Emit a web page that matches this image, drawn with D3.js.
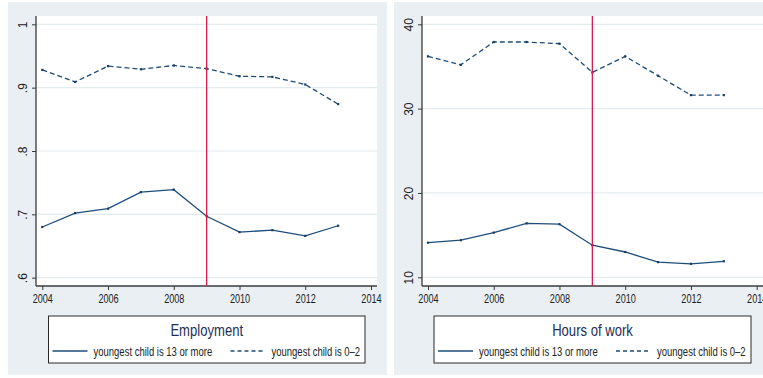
<!DOCTYPE html>
<html>
<head>
<meta charset="utf-8">
<script src="https://cdn.jsdelivr.net/npm/d3@7"></script>
<style>
  html, body { margin: 0; padding: 0; background: #ffffff; }
  svg { display: block; }
  .narrow, .regular { font-family: "Liberation Sans", Arial, Helvetica, sans-serif; }
</style>
</head>
<body>
<svg id="chart" width="763" height="378"></svg>
<script>
// Survey years
const years = [2004, 2005, 2006, 2007, 2008, 2009, 2010, 2011, 2012, 2013];

// Employment rate by age of youngest child
const employmentOlder = [0.680, 0.702, 0.709, 0.735, 0.739, 0.697, 0.672, 0.675, 0.666, 0.682];
const employmentYoung = [0.928, 0.909, 0.934, 0.929, 0.935, 0.930, 0.918, 0.917, 0.905, 0.874];

// Weekly hours of work by age of youngest child
const hoursOlder = [14.1, 14.4, 15.3, 16.4, 16.3, 13.8, 13.0, 11.8, 11.6, 11.9];
const hoursYoung = [36.2, 35.2, 37.9, 37.9, 37.7, 34.3, 36.2, 33.9, 31.6, 31.6];

// Axis ticks
const yearTicks = [2004, 2006, 2008, 2010, 2012, 2014];
const employmentTicks = [0.6, 0.7, 0.8, 0.9, 1];
const hoursTicks = [10, 20, 30, 40];

// Reference year marking the break
const breakYear = 2009;

// Legend labels
const seriesLabels = ["youngest child is 13 or more", "youngest child is 0\u20132"];

const svg = d3.select("#chart");
const navy = "#1f4d7a";
const red = "#d81e4f";
const panelBg = "#e9eff2";
const gridColor = "#e3ecef";
const axisColor = "#3a3a3a";

// Horizontal text is set condensed: squeeze each label to a fraction of its natural width
function condense(sel, factor) {
  sel.each(function () {
    const w = this.getComputedTextLength();
    d3.select(this)
      .attr("textLength", (w * factor).toFixed(2))
      .attr("lengthAdjust", "spacingAndGlyphs");
  });
}

function fmtEmployment(d) {
  return d === 1 ? "1" : d3.format(".1f")(d).replace(/^0/, "");
}

function drawPanel(cfg) {
  const g = svg.append("g");

  // Panel background
  g.append("rect")
    .attr("x", cfg.bg[0]).attr("y", cfg.bg[1])
    .attr("width", cfg.bg[2]).attr("height", cfg.bg[3])
    .attr("fill", panelBg);

  // Plot area
  g.append("rect")
    .attr("x", cfg.plot.left).attr("y", cfg.plot.top)
    .attr("width", cfg.plot.right - cfg.plot.left)
    .attr("height", cfg.plot.bottom - cfg.plot.top)
    .attr("fill", "#ffffff");

  const x = d3.scaleLinear().domain([2004, 2014]).range(cfg.xRange);
  const y = d3.scaleLinear().domain(cfg.yDomain).range(cfg.yRange);

  const clipId = "clip-" + cfg.id;
  svg.append("defs").append("clipPath").attr("id", clipId)
    .append("rect")
    .attr("x", cfg.plot.left).attr("y", cfg.plot.top)
    .attr("width", cfg.plot.right - cfg.plot.left)
    .attr("height", cfg.plot.bottom - cfg.plot.top);

  // Horizontal gridlines
  g.append("g").selectAll("line").data(cfg.yTicks).join("line")
    .attr("x1", cfg.plot.left).attr("x2", cfg.plot.right)
    .attr("y1", d => y(d)).attr("y2", d => y(d))
    .attr("stroke", gridColor).attr("stroke-width", 1.2);

  // Y axis
  const yAxis = d3.axisLeft(y).tickValues(cfg.yTicks).tickSize(4).tickFormat(cfg.yFormat);
  const yg = g.append("g")
    .attr("transform", `translate(${cfg.plot.left},0)`)
    .call(yAxis);
  yg.select(".domain")
    .attr("d", `M0,${cfg.plot.top}V${cfg.plot.bottom}`)
    .attr("stroke", axisColor).attr("stroke-width", 1.3);
  yg.selectAll(".tick line").attr("stroke", axisColor).attr("stroke-width", 1);
  yg.selectAll(".tick text")
    .attr("class", "regular")
    .attr("font-size", 12)
    .attr("fill", "#222")
    .attr("x", null).attr("dy", null)
    .attr("text-anchor", "middle")
    .attr("transform", `translate(${cfg.yLabelX},0) rotate(-90)`)
    .attr("y", 0);

  // X axis
  const xAxis = d3.axisBottom(x).tickValues(yearTicks).tickSize(4).tickFormat(d3.format("d"));
  const xg = g.append("g")
    .attr("transform", `translate(0,${cfg.plot.bottom})`)
    .call(xAxis);
  xg.select(".domain")
    .attr("d", `M${cfg.plot.left},0H${cfg.plot.right}`)
    .attr("stroke", axisColor).attr("stroke-width", 1.3);
  xg.selectAll(".tick line").attr("stroke", axisColor).attr("stroke-width", 1);
  xg.selectAll(".tick text")
    .attr("class", "narrow")
    .attr("font-size", 12)
    .attr("fill", "#222")
    .attr("dy", null)
    .attr("y", 17)
    .call(condense, 0.76);

  const line = d3.line().x((d, i) => x(years[i])).y(d => y(d));
  const marks = g.append("g").attr("clip-path", `url(#${clipId})`);

  // Series 1: youngest child 13+ (solid)
  marks.append("path").datum(cfg.older)
    .attr("d", line).attr("fill", "none")
    .attr("stroke", navy).attr("stroke-width", 1.3);
  // Series 2: youngest child 0-2 (dashed)
  marks.append("path").datum(cfg.young)
    .attr("d", line).attr("fill", "none")
    .attr("stroke", navy).attr("stroke-width", 1.3)
    .attr("stroke-dasharray", "5,3");

  // Point markers
  [cfg.older, cfg.young].forEach(series => {
    marks.append("g").selectAll("rect").data(series).join("rect")
      .attr("x", (d, i) => x(years[i]) - 1.1)
      .attr("y", d => y(d) - 1.1)
      .attr("width", 2.2).attr("height", 2.2)
      .attr("fill", "#173d63");
  });

  // Break year marker
  marks.append("line")
    .attr("x1", x(breakYear)).attr("x2", x(breakYear))
    .attr("y1", cfg.plot.top).attr("y2", cfg.plot.bottom)
    .attr("stroke", red).attr("stroke-width", 1.3);

  // Legend box
  const lg = cfg.legend;
  g.append("rect")
    .attr("x", lg.x).attr("y", lg.y).attr("width", lg.w).attr("height", lg.h)
    .attr("fill", "#ffffff").attr("stroke", "#2a2a2a").attr("stroke-width", 1);
  g.append("text")
    .attr("class", "narrow")
    .attr("x", lg.x + lg.w / 2).attr("y", lg.y + 19.5)
    .attr("text-anchor", "middle")
    .attr("font-size", 17)
    .attr("fill", "#1f2f56")
    .text(cfg.title)
    .call(condense, 0.77);

  const itemY = lg.y + 35;
  const items = [
    { dash: null, x0: lg.x + 4, label: seriesLabels[0] },
    { dash: "4,3", x0: lg.x + 182, label: seriesLabels[1] }
  ];
  items.forEach(it => {
    g.append("line")
      .attr("x1", it.x0).attr("x2", it.x0 + 35)
      .attr("y1", itemY).attr("y2", itemY)
      .attr("stroke", navy).attr("stroke-width", 1.3)
      .attr("stroke-dasharray", it.dash);
    g.append("text")
      .attr("class", "narrow")
      .attr("x", it.x0 + 41).attr("y", itemY + 4.5)
      .attr("font-size", 13)
      .attr("fill", "#222")
      .text(it.label)
      .call(condense, 0.73);
  });
}

drawPanel({
  id: "employment",
  bg: [8, 2, 379, 373],
  plot: { left: 36, right: 377, top: 16, bottom: 286 },
  xRange: [42.3, 371],
  yDomain: [0.6, 1],
  yRange: [277.7, 24.3],
  yTicks: employmentTicks,
  yFormat: fmtEmployment,
  yLabelX: -9,
  older: employmentOlder,
  young: employmentYoung,
  title: "Employment",
  legend: { x: 48.5, y: 316, w: 316.5, h: 47 }
});

drawPanel({
  id: "hours",
  bg: [394, 2, 369, 373],
  plot: { left: 422, right: 763, top: 16, bottom: 286 },
  xRange: [428, 756.7],
  yDomain: [10, 40],
  yRange: [277.3, 24.3],
  yTicks: hoursTicks,
  yFormat: d3.format("d"),
  yLabelX: -9,
  older: hoursOlder,
  young: hoursYoung,
  title: "Hours of work",
  legend: { x: 434, y: 316, w: 317, h: 47 }
});
</script>
</body>
</html>
